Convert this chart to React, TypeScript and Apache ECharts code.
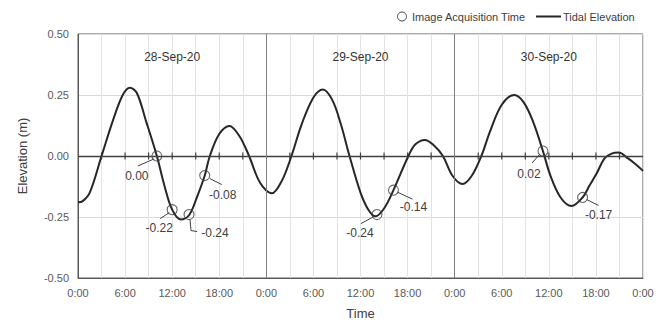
import { useEffect, useRef } from "react";
import * as echarts from "echarts";

// ---- data (time in hours from 28-Sep-20 0:00) ----
const hours = [
  0, 0.6, 1.5, 3.0, 4.5, 5.7, 6.6, 7.5, 8.7, 10.05, 11.0, 12.0, 13.1, 14.15, 15.2, 16.15, 16.8, 18.0, 19.3, 20.6, 21.8, 23.2,
  24.7, 26.0, 27.2, 28.5, 30.0, 31.2, 32.4, 33.5, 34.6, 36.0, 37.0, 37.9, 39.0, 40.2, 42.1, 43.0, 44.2, 45.3, 46.5, 47.7,
  49.0, 50.2, 51.4, 52.5, 54.0, 55.6, 56.8, 58.0, 59.25, 60.2, 61.5, 62.9, 64.3, 65.2, 66.1, 67.1, 68.0, 68.9, 70.1, 71.1, 72,
];
const elevation = [
  -0.19, -0.185, -0.15, 0.0, 0.15, 0.25, 0.28, 0.258, 0.14, 0.0, -0.12, -0.22, -0.26, -0.243, -0.165, -0.08, 0.0, 0.09, 0.123, 0.08, 0.0, -0.11,
  -0.153, -0.1, 0.0, 0.13, 0.24, 0.273, 0.23, 0.13, 0.0, -0.15, -0.22, -0.247, -0.215, -0.14, 0.0, 0.048, 0.066, 0.045, 0.0, -0.08,
  -0.115, -0.08, 0.0, 0.1, 0.21, 0.25, 0.22, 0.14, 0.02, -0.08, -0.17, -0.205, -0.17, -0.12, -0.071, -0.01, 0.01, 0.014, -0.01, -0.035, -0.061,
];
const acquisitionTimes = [10.05, 12.0, 14.15, 16.15, 38.1, 40.2, 59.25, 64.3];
const acquisitionValues = [0.0, -0.22, -0.24, -0.08, -0.24, -0.14, 0.02, -0.17];
const acquisitionLabels = ["0.00", "-0.22", "-0.24", "-0.08", "-0.24", "-0.14", "0.02", "-0.17"];
const dayLabels = ["28-Sep-20", "29-Sep-20", "30-Sep-20"];
const dayLabelHours = [12, 36, 60];
const dayLabelLevel = 0.405;
const xTickLabels = ["0:00", "6:00", "12:00", "18:00", "0:00", "6:00", "12:00", "18:00", "0:00", "6:00", "12:00", "18:00", "0:00"];
const dayBoundaries = [24, 48];
const zeroTickHours = [3, 6, 9, 12, 15, 18, 21, 27, 30, 33, 36, 39, 42, 45, 51, 54, 57, 60, 63, 66, 69];

// ---- layout of annotation leaders (pixel offsets from marker) ----
const annotationLayout = [
  { leader: [[-3, 3], [-19, 10]], label: [-20, 20] },
  { leader: [[-3, 3], [-12, 9]], label: [-13, 18] },
  { leader: [[1, 5], [2, 16], [8, 17]], label: [26, 18] },
  { leader: [[5, 3], [17, 9]], label: [18, 19] },
  { leader: [[-3, 2], [-16, 9]], label: [-17, 18] },
  { leader: [[4, 2], [19, 9]], label: [20, 17] },
  { leader: [[-3, 3], [-11, 12]], label: [-14, 23] },
  { leader: [[4, 2], [16, 8]], label: [16, 18] },
];

const FONT = "'Liberation Sans', Arial, sans-serif";

export default function App() {
  const ref = useRef<HTMLDivElement>(null);

  useEffect(() => {
    if (!ref.current) return;
    const chart = echarts.init(ref.current, undefined, { renderer: "svg" });

    const option: any = {
      animation: false,
      textStyle: { fontFamily: FONT },
      grid: {
        left: 78,
        right: 22,
        top: 34,
        bottom: 46,
        show: true,
        borderColor: "#595959",
        borderWidth: 1,
      },
      xAxis: {
        type: "value",
        min: 0,
        max: 72,
        interval: 6,
        name: "Time",
        nameLocation: "middle",
        nameGap: 29,
        nameTextStyle: { fontSize: 13, color: "#404040", fontFamily: FONT },
        axisLine: { onZero: false, lineStyle: { color: "#595959", width: 1 } },
        axisTick: { show: false },
        axisLabel: {
          fontSize: 11,
          color: "#595959",
          margin: 9,
          fontFamily: FONT,
          formatter: (v: number) => xTickLabels[Math.round(v / 6)] ?? "",
        },
        splitLine: { show: true, lineStyle: { color: "#e3e3e3", width: 1 } },
        minorTick: { show: false, splitNumber: 2 },
        minorSplitLine: { show: true, lineStyle: { color: "#e3e3e3", width: 1 } },
      },
      yAxis: {
        type: "value",
        min: -0.5,
        max: 0.5,
        interval: 0.25,
        name: "Elevation (m)",
        nameLocation: "middle",
        nameGap: 49,
        nameTextStyle: { fontSize: 13, color: "#404040", fontFamily: FONT },
        axisLine: { show: true, lineStyle: { color: "#595959", width: 1 } },
        axisTick: { show: false },
        axisLabel: {
          fontSize: 11,
          color: "#595959",
          margin: 9,
          fontFamily: FONT,
          formatter: (v: number) => v.toFixed(2),
        },
        splitLine: { show: true, lineStyle: { color: "#d9d9d9", width: 1 } },
      },
      graphic: [
        {
          type: "circle",
          shape: { cx: 402, cy: 16.5, r: 4.5 },
          style: { fill: "none", stroke: "#404040", lineWidth: 1 },
        },
        {
          type: "text",
          x: 412,
          y: 16.5,
          style: { text: "Image Acquisition Time", fontSize: 11, fill: "#404040", fontFamily: FONT, verticalAlign: "middle", align: "left" },
        },
        {
          type: "line",
          shape: { x1: 536, y1: 16.5, x2: 561, y2: 16.5 },
          style: { stroke: "#262626", lineWidth: 2 },
        },
        {
          type: "text",
          x: 563,
          y: 16.5,
          style: { text: "Tidal Elevation", fontSize: 11, fill: "#404040", fontFamily: FONT, verticalAlign: "middle", align: "left" },
        },
      ],
      series: [
        {
          name: "Tidal Elevation",
          type: "line",
          data: hours.map((h, i) => [h, elevation[i]]),
          smooth: 0.35,
          symbol: "none",
          lineStyle: { color: "#262626", width: 2 },
          z: 3,
          markLine: {
            silent: true,
            symbol: "none",
            label: { show: false },
            data: [
              { yAxis: 0, lineStyle: { color: "#404040", width: 1.3, type: "solid" } },
              ...dayBoundaries.map((d) => ({ xAxis: d, lineStyle: { color: "#7f7f7f", width: 1, type: "solid" } })),
            ],
          },
        },
        {
          name: "zeroTicks",
          type: "custom",
          silent: true,
          data: zeroTickHours.map((h) => [h, 0]),
          z: 2,
          renderItem: (params: any, api: any) => {
            const p = api.coord([api.value(0), api.value(1)]);
            return {
              type: "line",
              shape: { x1: p[0], y1: p[1] - 3.5, x2: p[0], y2: p[1] + 3.5 },
              style: { stroke: "#404040", lineWidth: 1.2 },
            };
          },
        },
        {
          name: "dayLabels",
          type: "custom",
          silent: true,
          data: dayLabelHours.map((h) => [h, dayLabelLevel]),
          renderItem: (params: any, api: any) => {
            const p = api.coord([api.value(0), api.value(1)]);
            return {
              type: "text",
              x: p[0],
              y: p[1],
              style: {
                text: dayLabels[params.dataIndex],
                fontSize: 12,
                fill: "#333333",
                fontFamily: FONT,
                align: "center",
                verticalAlign: "middle",
              },
            };
          },
        },
        {
          name: "Image Acquisition Time",
          type: "scatter",
          data: acquisitionTimes.map((t, i) => [t, acquisitionValues[i]]),
          symbol: "circle",
          symbolSize: 10,
          itemStyle: { color: "rgba(0,0,0,0)", borderColor: "#404040", borderWidth: 1.1 },
          z: 5,
        },
        {
          name: "annotations",
          type: "custom",
          silent: true,
          z: 6,
          data: acquisitionTimes.map((t, i) => [t, acquisitionValues[i]]),
          renderItem: (params: any, api: any) => {
            const p = api.coord([api.value(0), api.value(1)]);
            const lay = annotationLayout[params.dataIndex];
            return {
              type: "group",
              children: [
                {
                  type: "polyline",
                  shape: { points: lay.leader.map((o) => [p[0] + o[0], p[1] + o[1]]) },
                  style: { stroke: "#404040", lineWidth: 1, fill: "none" },
                },
                {
                  type: "text",
                  x: p[0] + lay.label[0],
                  y: p[1] + lay.label[1],
                  style: {
                    text: acquisitionLabels[params.dataIndex],
                    fontSize: 12,
                    fill: "#404040",
                    fontFamily: FONT,
                    align: "center",
                    verticalAlign: "middle",
                  },
                },
              ],
            };
          },
        },
      ],
    };

    chart.setOption(option);
    return () => chart.dispose();
  }, []);

  return <div ref={ref} style={{ width: 665, height: 325, position: "absolute", left: 0, top: 0 }} />;
}
